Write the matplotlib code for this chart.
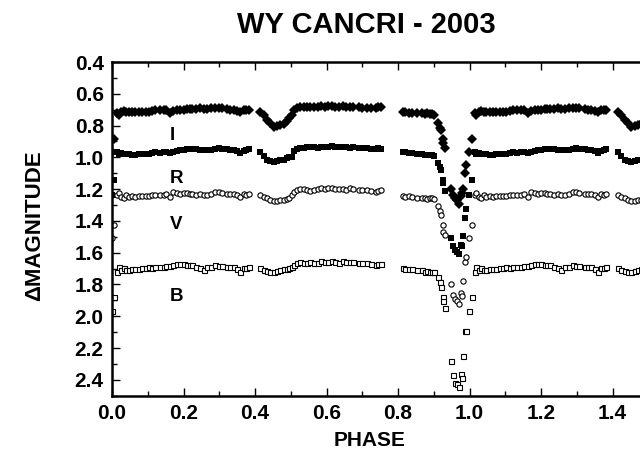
import numpy as np
import matplotlib
matplotlib.use("Agg")
import matplotlib.pyplot as plt
from matplotlib.ticker import MultipleLocator, FormatStrFormatter

# Phase-folded observations (phase in [0,1)); plotted again at phase+1
phase = [0.000, 0.006, 0.015, 0.019, 0.026, 0.033, 0.040, 0.047, 0.056, 0.065,
         0.075, 0.084, 0.094, 0.103, 0.112, 0.121, 0.133, 0.145, 0.152, 0.163,
         0.172, 0.182, 0.191, 0.200, 0.210, 0.217, 0.224, 0.235, 0.247, 0.256,
         0.266, 0.277, 0.289, 0.298, 0.307, 0.322, 0.331, 0.340, 0.350, 0.359,
         0.368, 0.376, 0.382, 0.415, 0.424, 0.434, 0.443, 0.452, 0.462, 0.471,
         0.480, 0.489, 0.494, 0.503, 0.510, 0.518, 0.527, 0.536, 0.545, 0.555,
         0.565, 0.575, 0.585, 0.595, 0.605, 0.615, 0.625, 0.635, 0.645, 0.655,
         0.665, 0.675, 0.690, 0.700, 0.712, 0.725, 0.738, 0.745, 0.752, 0.815,
         0.820, 0.832, 0.840, 0.852, 0.866, 0.875, 0.882, 0.890, 0.896, 0.902,
         0.913, 0.917, 0.920, 0.925, 0.927, 0.931, 0.948, 0.955, 0.959, 0.964,
         0.971, 0.976, 0.978, 0.983, 0.987, 0.991]

mag_I = [0.964, 0.886, 0.723, 0.733, 0.715, 0.708, 0.712, 0.712, 0.716, 0.717,
         0.715, 0.717, 0.714, 0.712, 0.710, 0.704, 0.703, 0.702, 0.705, 0.723,
         0.708, 0.704, 0.704, 0.700, 0.698, 0.697, 0.696, 0.694, 0.691, 0.694,
         0.696, 0.692, 0.687, 0.691, 0.689, 0.698, 0.700, 0.702, 0.710, 0.714,
         0.702, 0.704, 0.702, 0.712, 0.733, 0.765, 0.786, 0.807, 0.800, 0.797,
         0.792, 0.770, 0.754, 0.733, 0.700, 0.690, 0.683, 0.686, 0.683, 0.681,
         0.684, 0.683, 0.679, 0.682, 0.678, 0.680, 0.684, 0.681, 0.679, 0.683,
         0.685, 0.681, 0.684, 0.688, 0.687, 0.689, 0.690, 0.686, 0.685, 0.712,
         0.716, 0.720, 0.718, 0.722, 0.724, 0.728, 0.723, 0.725, 0.728, 0.732,
         0.786, 0.817, 0.828, 0.886, 0.910, 0.940, 1.199, 1.240, 1.257, 1.268,
         1.293, 1.243, 1.225, 1.199, 1.100, 1.048]

mag_R = [1.240, 1.142, 0.964, 0.981, 0.975, 0.981, 0.978, 0.981, 0.985, 0.983,
         0.980, 0.981, 0.978, 0.976, 0.972, 0.968, 0.970, 0.964, 0.966, 0.974,
         0.964, 0.958, 0.953, 0.951, 0.949, 0.948, 0.947, 0.950, 0.951, 0.952,
         0.953, 0.951, 0.945, 0.943, 0.947, 0.949, 0.951, 0.953, 0.962, 0.974,
         0.960, 0.955, 0.947, 0.968, 0.989, 1.016, 1.022, 1.027, 1.022, 1.019,
         1.016, 1.006, 1.000, 0.995, 0.960, 0.945, 0.940, 0.942, 0.938, 0.935,
         0.938, 0.940, 0.932, 0.936, 0.933, 0.930, 0.936, 0.938, 0.934, 0.937,
         0.940, 0.936, 0.942, 0.944, 0.943, 0.945, 0.946, 0.944, 0.945, 0.964,
         0.968, 0.972, 0.975, 0.978, 0.982, 0.985, 0.984, 0.986, 0.988, 0.990,
         1.037, 1.060, 1.079, 1.142, 1.163, 1.209, 1.509, 1.561, 1.580, 1.595,
         1.610, 1.551, 1.560, 1.492, 1.380, 1.326]

mag_V = [1.509, 1.425, 1.240, 1.226, 1.247, 1.257, 1.236, 1.247, 1.245, 1.247,
         1.243, 1.243, 1.245, 1.243, 1.240, 1.236, 1.236, 1.236, 1.232, 1.247,
         1.220, 1.225, 1.230, 1.226, 1.226, 1.228, 1.230, 1.236, 1.232, 1.240,
         1.236, 1.228, 1.220, 1.215, 1.222, 1.230, 1.228, 1.232, 1.238, 1.247,
         1.232, 1.235, 1.232, 1.236, 1.247, 1.257, 1.268, 1.274, 1.274, 1.268,
         1.268, 1.260, 1.253, 1.240, 1.215, 1.205, 1.200, 1.198, 1.205, 1.210,
         1.205, 1.200, 1.195, 1.200, 1.195, 1.192, 1.200, 1.198, 1.200, 1.203,
         1.196, 1.200, 1.205, 1.207, 1.205, 1.210, 1.215, 1.210, 1.207, 1.242,
         1.247, 1.245, 1.250, 1.253, 1.255, 1.257, 1.262, 1.255, 1.258, 1.260,
         1.306, 1.335, 1.362, 1.425, 1.470, 1.488, 1.800, 1.865, 1.893, 1.903,
         1.924, 1.855, 1.870, 1.777, 1.656, 1.625]

mag_B = [1.970, 1.880, 1.720, 1.687, 1.708, 1.698, 1.712, 1.708, 1.703, 1.702,
         1.700, 1.698, 1.697, 1.693, 1.695, 1.693, 1.690, 1.687, 1.685, 1.681,
         1.680, 1.670, 1.670, 1.672, 1.677, 1.675, 1.677, 1.690, 1.698, 1.708,
         1.693, 1.690, 1.677, 1.681, 1.683, 1.687, 1.690, 1.693, 1.700, 1.719,
         1.698, 1.695, 1.693, 1.698, 1.708, 1.714, 1.719, 1.722, 1.714, 1.710,
         1.702, 1.700, 1.695, 1.687, 1.677, 1.667, 1.660, 1.665, 1.662, 1.660,
         1.667, 1.665, 1.655, 1.660, 1.657, 1.655, 1.660, 1.662, 1.655, 1.660,
         1.657, 1.660, 1.665, 1.667, 1.668, 1.670, 1.675, 1.672, 1.670, 1.695,
         1.700, 1.705, 1.703, 1.710, 1.712, 1.719, 1.717, 1.722, 1.719, 1.722,
         1.754, 1.785, 1.813, 1.876, 1.907, 1.949, 2.279, 2.369, 2.417, 2.425,
         2.446, 2.365, 2.386, 2.249, 2.090, 2.090]

band_labels = ["I", "R", "V", "B"]
label_pos = [(0.162, 0.865), (0.162, 1.13), (0.162, 1.42), (0.162, 1.876)]

FONT = "Liberation Sans"

fig = plt.figure(figsize=(6.4, 4.63), dpi=100)
ax = fig.add_axes([112/640, 1 - 395.7/463, 528/640, (395.7 - 62)/463])

ph = np.asarray(phase)
ph2 = np.concatenate([ph, ph + 1.0])

def rep(m):
    m = np.asarray(m)
    return np.concatenate([m, m])

ax.plot(ph2, rep(mag_I), ls="none", marker="D", ms=5.0, color="black", mew=0)
ax.plot(ph2, rep(mag_R), ls="none", marker="s", ms=4.6, color="black", mew=0)
ax.plot(ph2, rep(mag_V), ls="none", marker="o", ms=3.8, mfc="white", mec="black", mew=0.8)
ax.plot(ph2, rep(mag_B), ls="none", marker="s", ms=3.6, mfc="white", mec="black", mew=0.8)

for lab, (x, y) in zip(band_labels, label_pos):
    ax.text(x, y, lab, ha="left", va="center", fontsize=13.5, fontweight="bold",
            family=FONT)

ax.set_xlim(0, 528/357.5)
ax.set_ylim(2.5, 0.4)
ax.xaxis.set_major_locator(MultipleLocator(0.2))
ax.xaxis.set_minor_locator(MultipleLocator(0.1))
ax.yaxis.set_major_locator(MultipleLocator(0.2))
ax.yaxis.set_minor_locator(MultipleLocator(0.1))
ax.xaxis.set_major_formatter(FormatStrFormatter("%.1f"))
ax.yaxis.set_major_formatter(FormatStrFormatter("%.1f"))

ax.tick_params(which="both", direction="in", top=True, right=False, width=1.0)
ax.tick_params(which="major", length=5.5)
ax.tick_params(which="minor", length=3.5)
ax.tick_params(axis="y", which="major", pad=6)
ax.tick_params(axis="x", which="major", pad=6)
for lbl in ax.get_xticklabels() + ax.get_yticklabels():
    lbl.set_fontfamily(FONT)
    lbl.set_fontweight("bold")
    lbl.set_fontsize(15)

for s in ["left", "bottom", "top"]:
    ax.spines[s].set_linewidth(1.8)
ax.spines["right"].set_visible(False)

fig.text(366/640, 1 - 25/463, "WY CANCRI - 2003", ha="center", va="center",
         fontsize=21, fontweight="bold", family=FONT)
fig.text(370/640, 1 - 440/463, "PHASE", ha="center", va="center",
         fontsize=15, fontweight="bold", family=FONT)
fig.text(35/640, 1 - 226/463, "\u0394MAGNITUDE", ha="center", va="center",
         rotation=90, fontsize=16, fontweight="bold", family=FONT)

fig.savefig("out.png", dpi=100)
